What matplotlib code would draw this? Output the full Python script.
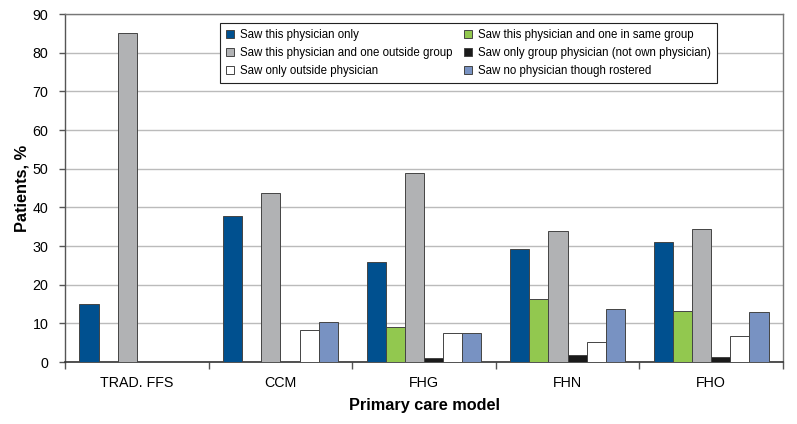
import matplotlib
matplotlib.use("Agg")
import matplotlib.pyplot as plt
from matplotlib.patches import Patch
import numpy as np

plt.rcParams['font.family'] = ['Liberation Sans', 'DejaVu Sans']

categories = ["TRAD. FFS", "CCM", "FHG", "FHN", "FHO"]
series_names = [
    "Saw this physician only",
    "Saw this physician and one in same group",
    "Saw this physician and one outside group",
    "Saw only group physician (not own physician)",
    "Saw only outside physician",
    "Saw no physician though rostered",
]
saw_this_only = [15.0, 37.8, 25.8, 29.3, 31.1]
saw_this_same_group = [0.0, 0.0, 9.1, 16.2, 13.1]
saw_this_outside_group = [85.0, 43.8, 49.0, 33.8, 34.5]
saw_only_group = [0.0, 0.0, 1.0, 1.8, 1.4]
saw_only_outside = [0.0, 8.3, 7.5, 5.1, 6.8]
saw_none_rostered = [0.0, 10.3, 7.4, 13.7, 12.9]
series_values = [saw_this_only, saw_this_same_group, saw_this_outside_group,
                 saw_only_group, saw_only_outside, saw_none_rostered]
colors = ["#00508F", "#92C84F", "#B1B2B4", "#1A1A1A", "#FFFFFF", "#7892C2"]
yticks = list(range(0, 100, 10))

fig = plt.figure(figsize=(7.97, 4.24), dpi=100)
ax = fig.add_axes([65/797, 1-362/424, (783-65)/797, (362-14)/424])

n = len(series_names)
bw = 0.8 / n
x = np.arange(len(categories))
handles = []
for i, (name, vals, c) in enumerate(zip(series_names, series_values, colors)):
    lws = [0.7 if v > 0 else 0 for v in vals]
    ax.bar(x - 0.4 + bw*(i+0.5), vals, width=bw, color=c,
           edgecolor="#444444", linewidth=lws, zorder=3)
    handles.append(Patch(facecolor=c, edgecolor="#444444", linewidth=0.7, label=name))

ax.set_xlim(-0.5, len(categories)-0.5)
ax.set_ylim(0, 90)
ax.set_yticks(yticks)
ax.set_yticklabels([str(t) for t in yticks], fontsize=10.3)
ax.yaxis.grid(True, color="#BBBBBB", linewidth=1.0, zorder=0)
ax.set_axisbelow(True)

ax.set_xticks(x)
ax.set_xticklabels(categories, fontsize=10.3)
ax.tick_params(axis='x', length=0, pad=10)
ax.set_xticks(np.arange(len(categories)+1) - 0.5, minor=True)
ax.tick_params(axis='x', which='minor', length=5, color="#555555", width=1)
ax.tick_params(axis='y', length=4, color="#555555", width=1, pad=8)

for s in ["top", "right"]:
    ax.spines[s].set_color("#777777")
    ax.spines[s].set_linewidth(1.0)
ax.spines["left"].set_color("#555555")
ax.spines["bottom"].set_color("#333333")
ax.spines["left"].set_linewidth(1.0)
ax.spines["bottom"].set_linewidth(1.2)

ax.set_xlabel("Primary care model", fontsize=11.7, fontweight="bold", labelpad=6)
ax.set_ylabel("Patients, %", fontsize=11.8, fontweight="bold", labelpad=2)

order = [0, 2, 4, 1, 3, 5]
leg = ax.legend([handles[i] for i in order], [series_names[i] for i in order],
                ncol=2, loc="upper left", bbox_to_anchor=((220-65)/718, 1-(23-14)/348),
                fontsize=8.3, frameon=True, fancybox=False, framealpha=1,
                edgecolor="#222222", handlelength=0.7, handleheight=0.7,
                handletextpad=0.5, columnspacing=1.0, borderpad=0.55,
                labelspacing=0.5, borderaxespad=0)
leg.get_frame().set_linewidth(0.8)
leg.set_zorder(5)

fig.savefig("out.png", dpi=100)
